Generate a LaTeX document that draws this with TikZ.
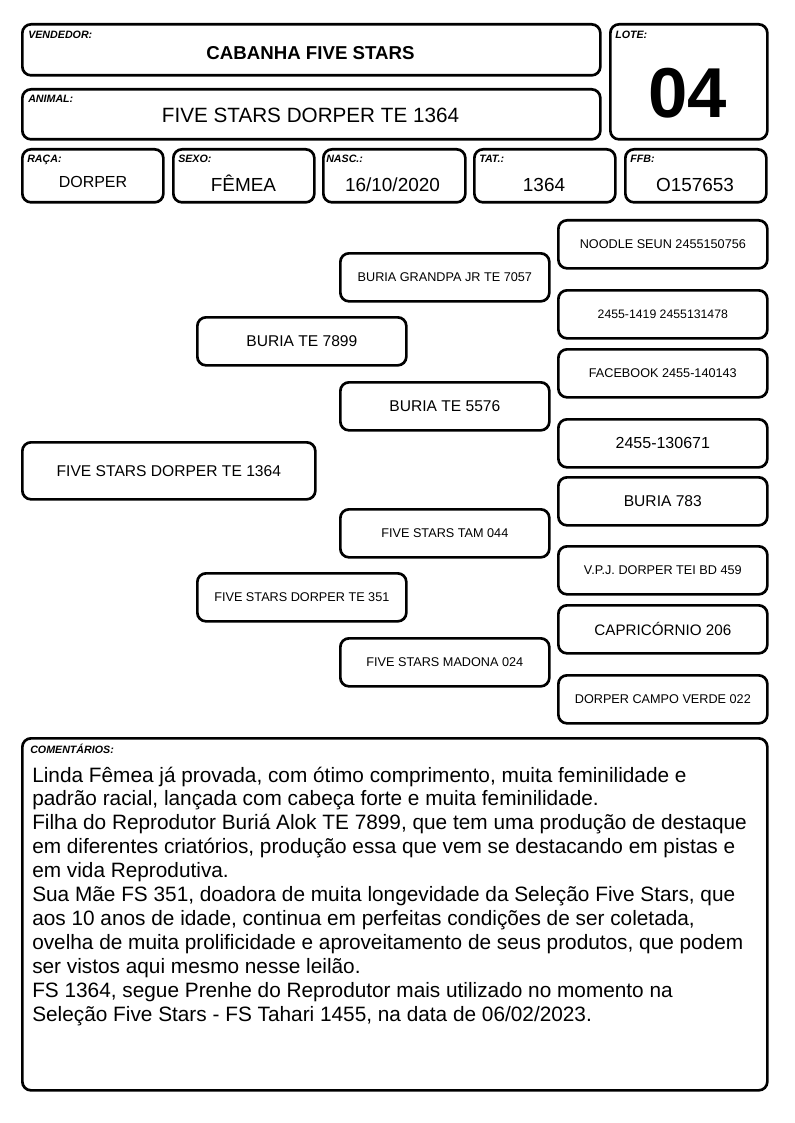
\documentclass[tikz,border=0pt]{standalone}
\usepackage{fontspec}
\setmainfont{Liberation Sans}
\begin{document}
\begin{tikzpicture}[x=0.75pt,y=-0.75pt,
 box/.style={draw, line width=2pt, rounded corners=6.5pt, anchor=north west, inner sep=0pt, align=center},
 lbl/.style={anchor=base west, inner sep=0pt, font=\fontsize{8}{9}\selectfont\bfseries\itshape},
 val/.style={anchor=base, inner sep=0pt},
 big/.style={font=\fontsize{11.7}{13}\selectfont},
 sml/.style={font=\fontsize{9.5}{11}\selectfont},
 ped/.style={box, minimum width=156.75pt, minimum height=36pt}]
\useasboundingbox (0,0) rectangle (794,1123);
% header boxes
\node[box, minimum width=433.5pt, minimum height=38.25pt] (vend) at (21,23) {};
\node[box, minimum width=433.5pt, minimum height=37.5pt] (anim) at (21,88) {};
\node[box, minimum width=117.75pt, minimum height=86.25pt] (lote) at (609,23) {};
\node[box, minimum width=105.75pt, minimum height=39.75pt] (raca) at (21,148) {};
\node[box, minimum width=105.75pt, minimum height=39.75pt] (sexo) at (172,148) {};
\node[box, minimum width=106.5pt, minimum height=39.75pt] (nasc) at (322,148) {};
\node[box, minimum width=105.75pt, minimum height=39.75pt] (tat) at (473,148) {};
\node[box, minimum width=105.75pt, minimum height=39.75pt] (ffb) at (624,148) {};
% labels
\node[lbl] (lvend) at (28,39) {VENDEDOR:};
\node[lbl] (llote) at (615,39) {LOTE:};
\node[lbl] (lanim) at (28,103) {ANIMAL:};
\node[lbl] (lraca) at (27,163) {RAÇA:};
\node[lbl] (lsexo) at (178,163) {SEXO:};
\node[lbl] (lnasc) at (326,163) {NASC.:};
\node[lbl] (ltat) at (479,163) {TAT.:};
\node[lbl] (lffb) at (630,163) {FFB:};
% values
\node[val, font=\fontsize{14}{16}\selectfont\bfseries] (tvend) at (310.5,60) {CABANHA FIVE STARS};
\node[val, font=\fontsize{53}{60}\selectfont\bfseries] (tlote) at (687.5,118) {04};
\node[val, font=\fontsize{15.5}{18}\selectfont] (tanim) at (310.5,123) {FIVE STARS DORPER TE 1364};
\node[val, font=\fontsize{12}{14}\selectfont] (traca) at (93,188) {DORPER};
\node[val, font=\fontsize{14.2}{16}\selectfont] (tsexo) at (243.5,192) {FÊMEA};
\node[val, font=\fontsize{14.2}{16}\selectfont] (tnasc) at (392.5,192) {16/10/2020};
\node[val, font=\fontsize{14.2}{16}\selectfont] (ttat) at (544,192) {1364};
\node[val, font=\fontsize{14.2}{16}\selectfont] (tffb) at (695,192) {O157653};
% pedigree
\node[box, big, minimum width=219.75pt, minimum height=42.75pt] (p0) at (21,441) {FIVE STARS DORPER TE 1364};
\node[ped, big] (p1a) at (196,316) {BURIA TE 7899};
\node[ped, sml] (p1b) at (196,572) {FIVE STARS DORPER TE 351};
\node[ped, sml] (p2a) at (339,252) {BURIA GRANDPA JR TE 7057};
\node[ped, big] (p2b) at (339,381) {BURIA TE 5576};
\node[ped, sml] (p2c) at (339,508) {FIVE STARS TAM 044};
\node[ped, sml] (p2d) at (339,637) {FIVE STARS MADONA 024};
\node[ped, sml] (p3a) at (557,219) {NOODLE SEUN 2455150756};
\node[ped, font=\fontsize{9.2}{11}\selectfont] (p3b) at (557,289) {2455-1419 2455131478};
\node[ped, sml] (p3c) at (557,348) {FACEBOOK 2455-140143};
\node[ped, font=\fontsize{12}{14}\selectfont] (p3d) at (557,418) {2455-130671};
\node[ped, big] (p3e) at (557,476) {BURIA 783};
\node[ped, sml] (p3f) at (557,545) {V.P.J. DORPER TEI BD 459};
\node[ped, font=\fontsize{11.4}{13}\selectfont] (p3g) at (557,604) {CAPRICÓRNIO 206};
\node[ped, sml] (p3h) at (557,674) {DORPER CAMPO VERDE 022};
% comments
\node[box, minimum width=558.75pt, minimum height=264pt] (com) at (21,737) {};
\node[lbl] (lcom) at (30,753) {COMENTÁRIOS:};
\node[anchor=base west, inner sep=0pt] (tcom) at (32,782) {\parbox[t]{560pt}{\fontsize{15.6}{17.95}\selectfont\lineskiplimit=-100pt\lineskip=0pt\raggedright
Linda Fêmea já provada, com ótimo comprimento, muita feminilidade e\\
padrão racial, lançada com cabeça forte e muita feminilidade.\\
Filha do Reprodutor Buriá Alok TE 7899, que tem uma produção de destaque\\
em diferentes criatórios, produção essa que vem se destacando em pistas e\\
em vida Reprodutiva.\\
Sua Mãe FS 351, doadora de muita longevidade da Seleção Five Stars, que\\
aos 10 anos de idade, continua em perfeitas condições de ser coletada,\\
ovelha de muita prolificidade e aproveitamento de seus produtos, que podem\\
ser vistos aqui mesmo nesse leilão.\\
FS 1364, segue Prenhe do Reprodutor mais utilizado no momento na\\
Seleção Five Stars - FS Tahari 1455, na data de 06/02/2023.}};
\end{tikzpicture}
\end{document}
